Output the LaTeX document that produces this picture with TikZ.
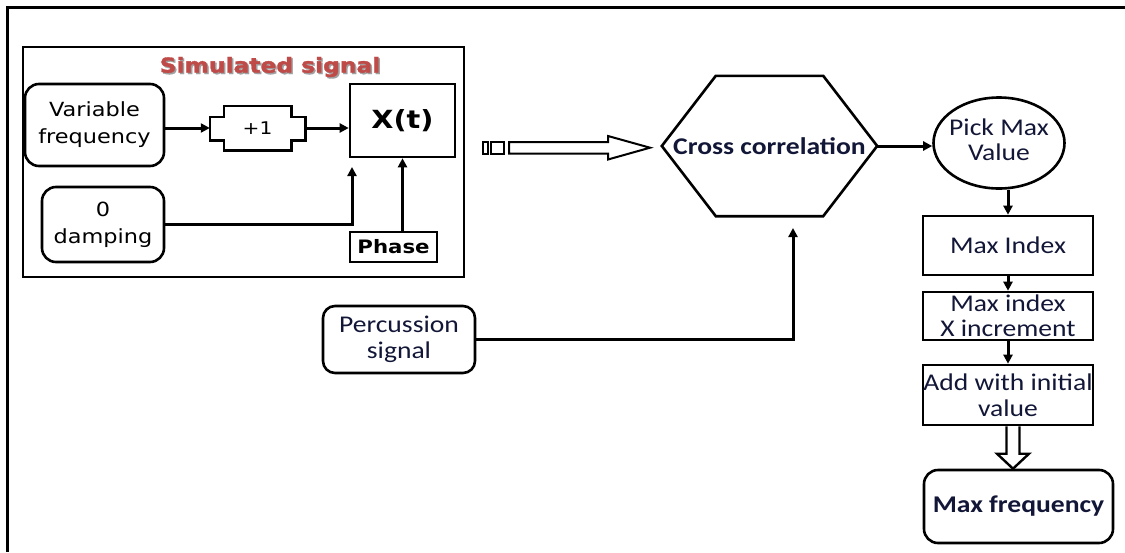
\documentclass[tikz,border=0pt]{standalone}
\usepackage{fontspec}
\usetikzlibrary{arrows.meta,calc,shapes.geometric}
\newfontfamily\vfont[FakeStretch=1.15]{DejaVu Sans}
\newfontfamily\cfont[FakeStretch=1.15]{Carlito}
\newfontfamily\tfont[FakeStretch=1.14, FakeBold=1.6]{DejaVu Sans}
\definecolor{titlered}{RGB}{190,75,72}
\definecolor{titleshade}{RGB}{160,160,160}
\definecolor{inkblue}{RGB}{18,22,55}
\tikzset{
  frame/.style={draw, line width=2.6pt},
  box/.style={draw, line width=2.6pt, inner sep=0pt, align=center},
  rbox/.style={box, rounded corners=14pt},
  ghost/.style={inner sep=0pt, align=center},
  arr/.style={line width=3pt, -{Triangle[length=9pt,width=9pt]}},
  hollow/.style={draw, line width=2.4pt, fill=white, line join=miter},
  vtext/.style={font=\vfont\fontsize{19.5}{27}\selectfont},
  ctext/.style={font=\cfont\fontsize{24}{25.5}\selectfont, text=inkblue},
  cbold/.style={font=\cfont\bfseries\fontsize{24}{25.5}\selectfont, text=inkblue},
}
\begin{document}
\begin{tikzpicture}[x=1pt, y=-1pt]
\useasboundingbox (0,0) rectangle (1125,552);

% outer page frame (top and left edges)
\draw[line width=3pt] (1125,7) -- (7,7) -- (7,552);

% ---------- simulated signal block ----------
\draw[frame] (23,47) rectangle (464,277);
\node[ghost, text=titleshade, font=\tfont\bfseries\fontsize{20.5}{24}\selectfont] (titleshadow) at (271.5,68.5) {Simulated signal};
\node[ghost, text=titlered, font=\tfont\bfseries\fontsize{20.5}{24}\selectfont] (title) at (270,67) {Simulated signal};

\node[rbox, vtext, minimum width=139pt, minimum height=82pt] (varf) at (94.5,125) {Variable\\frequency};
\node[ghost, minimum width=95pt, minimum height=44pt, font=\vfont\fontsize{17.5}{20}\selectfont] (p1) at (257.5,128) {+1};
\draw[line width=2.6pt]
  ($(p1.north west)+(14,0)$) -- ($(p1.north east)+(-14,0)$) -- ++(0,11) -- ++(14,0)
  -- ($(p1.south east)+(0,-10)$) -- ++(-14,0) -- ++(0,10)
  -- ($(p1.south west)+(14,0)$) -- ++(0,-10) -- ++(-14,0)
  -- ($(p1.north west)+(0,11)$) -- ++(14,0) -- cycle;
\node[box, minimum width=105pt, minimum height=73pt, font=\vfont\bfseries\fontsize{25}{28}\selectfont] (xt) at (402.5,120.5) {X(t)};
\node[rbox, vtext, minimum width=122pt, minimum height=75pt] (damp) at (103,224.5) {0\\damping};
\node[box, minimum width=87pt, minimum height=30pt, font=\vfont\bfseries\fontsize{18.5}{22}\selectfont] (ph) at (393.5,247) {Phase};
\coordinate (xin) at (352,167);

\draw[arr] (varf.east |- p1.west) -- (p1.west);
\draw[arr] (p1.east) -- (p1.east -| xt.west);
\draw[arr] (damp.east) -| (xin);
\draw[arr] (ph.north -| xt.south) -- (xt.south);

% ---------- striped transfer arrow ----------
\draw[hollow, line width=2pt] (483,142) rectangle (487.5,153.5);
\draw[hollow, line width=2pt] (491,142) rectangle (504,153.5);
\draw[hollow, line width=2pt] (509,142) -- (608,142) -- (608,136) -- (650,147.7)
  -- (608,159.5) -- (608,153.5) -- (509,153.5) -- cycle;

% ---------- cross correlation ----------
\node[ghost, minimum width=215pt, minimum height=140pt, cbold] (cc) at (769.5,146) {Cross correlation};
\draw[line width=2.6pt, line join=miter]
  (cc.west) -- ($(cc.north west)+(54,0)$) -- ($(cc.north east)+(-54,0)$) -- (cc.east)
  -- ($(cc.south east)+(-54,0)$) -- ($(cc.south west)+(54,0)$) -- cycle;

\node[rbox, ctext, rounded corners=12pt, minimum width=152pt, minimum height=67pt] (perc) at (399,339.5) {Percussion\\signal};
\coordinate (ccin) at (793,228);
\draw[arr] (perc.east) -| (ccin);

% ---------- peak picking chain ----------
\node[draw, ellipse, line width=2.6pt, minimum width=131pt, minimum height=91pt, inner sep=0pt] (pm) at (999,143) {};
\node[ghost, ctext] (pmtext) at (999,140) {Pick Max\\Value};
\draw[arr] (cc.east) -- (cc.east -| pm.west);

\node[box, ctext, minimum width=170pt, minimum height=59pt] (mi) at (1008,245.5) {Max Index};
\node[box, ctext, minimum width=170pt, minimum height=48pt] (mx) at (1008,316) {Max index\\X increment};
\node[box, ctext, minimum width=170pt, minimum height=60pt] (add) at (1008,395) {Add with initial\\value};
\node[rbox, cbold, minimum width=189pt, minimum height=73pt] (mf) at (1018.5,506.5) {Max frequency};

\draw[arr] (mi.north |- pm.south) -- (mi.north);
\draw[arr] (mi.south) -- (mx.north);
\draw[arr] (mx.south) -- (add.north);

% hollow block arrow into the result
\coordinate (hs) at ($(add.south)+(5,0)$);
\coordinate (he) at (hs |- mf.north);
\draw[line width=2.4pt, line join=miter]
  ($(hs)+(-6.5,0)$) -- ($(he)+(-6.5,-15)$) -- ($(he)+(-16,-15)$) -- (he)
  -- ($(he)+(16,-15)$) -- ($(he)+(6.5,-15)$) -- ($(hs)+(6.5,0)$);
\end{tikzpicture}
\end{document}
